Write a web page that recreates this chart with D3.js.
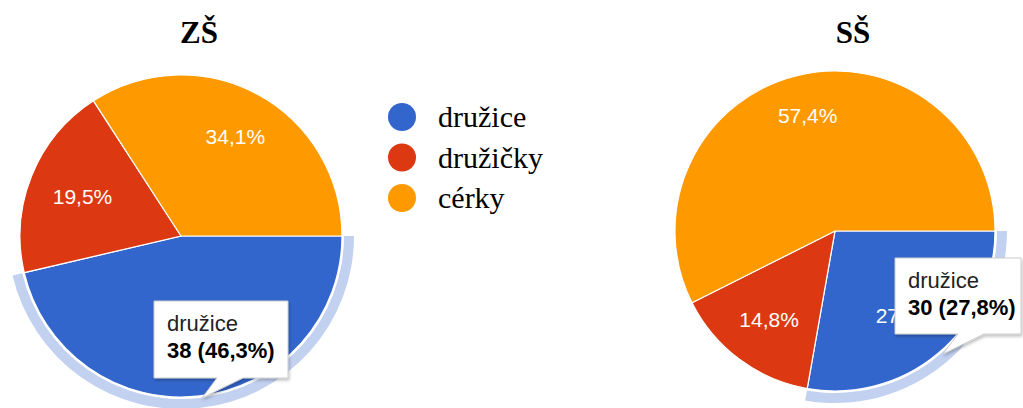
<!DOCTYPE html>
<html>
<head>
<meta charset="utf-8">
<script src="https://cdn.jsdelivr.net/npm/d3@7"></script>
<style>
  body { margin: 0; background: #fff; }
  svg { display: block; }
</style>
</head>
<body>
<svg id="chart" width="1023" height="408"></svg>
<script>
const categories = ["družice", "družičky", "cérky"];
const colors = ["#3366cc", "#dc3912", "#ff9900"];
const zsValues = [38, 16, 28];
const ssValues = [30, 16, 62];

const svg = d3.select("#chart");

const defs = svg.append("defs");
const shadow = defs.append("filter").attr("id", "shadow")
  .attr("x", "-10%").attr("y", "-10%").attr("width", "130%").attr("height", "140%");
shadow.append("feDropShadow")
  .attr("dx", 1).attr("dy", 2).attr("stdDeviation", 1.5)
  .attr("flood-color", "#000").attr("flood-opacity", 0.25);

const pct = (v, total) => (v / total * 100).toFixed(1).replace(".", ",") + "%";

const pie = d3.pie().sort(null)
  .startAngle(Math.PI / 2)
  .endAngle(Math.PI / 2 + 2 * Math.PI);

function drawPie(values, cx, cy, r, title, tip) {
  const total = d3.sum(values);
  const arcs = pie(values);
  const g = svg.append("g").attr("transform", `translate(${cx},${cy})`);

  const arc = d3.arc().innerRadius(0).outerRadius(r);
  const ring = d3.arc().innerRadius(r + 2).outerRadius(r + 12);

  // hover ring on the highlighted slice
  g.append("path")
    .attr("d", ring(arcs[0]))
    .attr("fill", "#c2d1f0");

  g.selectAll("path.slice")
    .data(arcs)
    .join("path")
    .attr("class", "slice")
    .attr("d", arc)
    .attr("fill", (d, i) => colors[i])
    .attr("stroke", "#fff")
    .attr("stroke-width", 1.2);

  // labels: push out along the mid angle until the text box's far corner hits 0.85r
  const R = r * 0.85, h = 16;
  g.selectAll("text.lbl")
    .data(arcs)
    .join("text")
    .attr("class", "lbl")
    .attr("text-anchor", "middle")
    .attr("dy", "0.36em")
    .attr("fill", "#fff")
    .style("font-family", "Arial, 'Liberation Sans', sans-serif")
    .style("font-size", "21px")
    .text(d => pct(d.value, total))
    .attr("transform", function (d) {
      const w = this.getComputedTextLength();
      const a = (d.startAngle + d.endAngle) / 2;
      const ux = Math.sin(a), uy = -Math.cos(a);
      const b = Math.abs(ux) * w + Math.abs(uy) * h;
      const c = (w * w + h * h) / 4 - R * R;
      const t = (-b + Math.sqrt(b * b - 4 * c)) / 2;
      return `translate(${t * ux},${t * uy})`;
    });

  svg.append("text")
    .attr("x", cx + 18)
    .attr("y", 43)
    .attr("text-anchor", "middle")
    .style("font-family", "'Times New Roman', 'Liberation Serif', serif")
    .style("font-weight", "bold")
    .style("font-size", "31px")
    .text(title);

  // tooltip
  const { x0, y0, x1, y1, b0, b1, tx, ty } = tip;
  const path = `M${x0},${y0}H${x1}V${y1}H${b1}L${tx},${ty}L${b0},${y1}H${x0}Z`;
  const t = svg.append("g");
  t.append("path")
    .attr("d", path)
    .attr("fill", "#fff")
    .attr("stroke", "#cccccc")
    .attr("stroke-width", 1)
    .attr("filter", "url(#shadow)");
  t.append("text")
    .attr("x", x0 + 13)
    .attr("y", y0 + 30)
    .attr("fill", "#222")
    .style("font-family", "Arial, 'Liberation Sans', sans-serif")
    .style("font-size", "22px")
    .text(categories[0]);
  t.append("text")
    .attr("x", x0 + 13)
    .attr("y", y0 + 57)
    .attr("fill", "#000")
    .style("font-family", "Arial, 'Liberation Sans', sans-serif")
    .style("font-size", "22px")
    .style("font-weight", "bold")
    .text(`${values[0]} (${pct(values[0], total)})`);
}

drawPie(zsValues, 181, 236, 161, "ZŠ",
  { x0: 154, y0: 301, x1: 288, y1: 378, b0: 217, b1: 243, tx: 202, ty: 398 });
drawPie(ssValues, 835, 231, 160, "SŠ",
  { x0: 895, y0: 258, x1: 1021, y1: 334, b0: 958, b1: 984, tx: 943, ty: 354 });

// legend
const legend = svg.append("g").attr("transform", "translate(402,117)");
const item = legend.selectAll("g")
  .data(categories)
  .join("g")
  .attr("transform", (d, i) => `translate(0,${i * 40.5})`);
item.append("circle")
  .attr("r", 14)
  .attr("fill", (d, i) => colors[i]);
item.append("text")
  .attr("x", 36)
  .attr("y", 10)
  .style("font-family", "'Times New Roman', 'Liberation Serif', serif")
  .style("font-size", "30px")
  .attr("fill", "#000")
  .text(d => d);
</script>
</body>
</html>
